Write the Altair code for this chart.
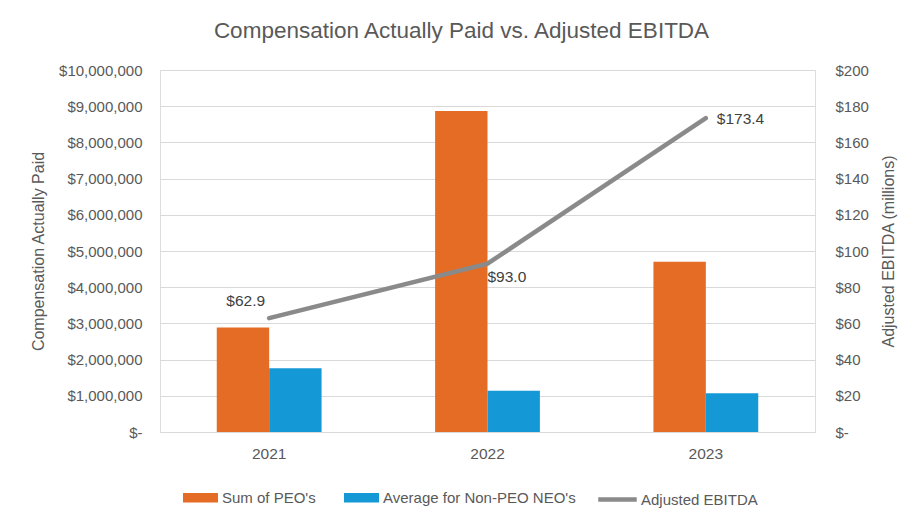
import altair as alt
import pandas as pd

years = ["2021", "2022", "2023"]
series_names = ["Sum of PEO's", "Average for Non-PEO NEO's"]
peo_values = [2890000, 8870000, 4700000]
neo_values = [1760000, 1140000, 1070000]
ebitda_values = [62.9, 93.0, 173.4]
ebitda_labels = ["$62.9", "$93.0", "$173.4"]
line_name = "Adjusted EBITDA"
bar_colors = ["#E46C25", "#1599D6"]
line_color = "#8A8A8A"
left_ticks = [i * 1000000 for i in range(11)]
right_ticks = [i * 20 for i in range(11)]

bars_df = pd.DataFrame({
    "year": years * 2,
    "series": [series_names[0]] * 3 + [series_names[1]] * 3,
    "value": peo_values + neo_values,
})
line_df = pd.DataFrame({
    "year": years,
    "ebitda": ebitda_values,
    "label": ebitda_labels,
    "series": [line_name] * 3,
})

FONT = "Liberation Sans"
GRAY = "#595959"

xscale = alt.Scale(paddingInner=0.52, paddingOuter=0.26)
x_enc = alt.X("year:N", scale=xscale, sort=years,
              axis=alt.Axis(title=None, labelAngle=0, labelFontSize=15.5, labelColor=GRAY,
                            labelPadding=14, domain=False, ticks=False, labelFont=FONT))

bars = alt.Chart(bars_df).mark_bar().encode(
    x=x_enc,
    xOffset=alt.XOffset("series:N", sort=series_names),
    y=alt.Y("value:Q", scale=alt.Scale(domain=[0, 10000000]),
            axis=alt.Axis(title="Compensation Actually Paid", values=left_ticks,
                          labelExpr="datum.value == 0 ? '$-' : '$' + format(datum.value, ',.0f')",
                          labelFontSize=15, labelColor=GRAY, labelPadding=18,
                          titleFontSize=16, titleFontWeight="normal", titleColor=GRAY, titlePadding=12,
                          domain=False, ticks=False, grid=True, gridColor="#D9D9D9", gridWidth=1.2,
                          labelFont=FONT, titleFont=FONT)),
    color=alt.Color("series:N", sort=series_names,
                    scale=alt.Scale(domain=series_names, range=bar_colors),
                    legend=alt.Legend(title=None, orient="none", legendX=23, legendY=410,
                                      direction="horizontal",
                                      symbolType="M-1,-0.27L1,-0.27L1,0.27L-1,0.27Z",
                                      symbolSize=1225, symbolStrokeWidth=0,
                                      labelFontSize=15, labelColor=GRAY, labelFont=FONT,
                                      labelLimit=400, labelOffset=4, columnPadding=28)),
)

right_axis = alt.Axis(title="Adjusted EBITDA (millions)", orient="right", values=right_ticks,
                      labelExpr="datum.value == 0 ? '$-' : '$' + datum.value",
                      labelFontSize=15, labelColor=GRAY, labelPadding=20,
                      titleFontSize=16, titleFontWeight="normal", titleColor=GRAY, titlePadding=12,
                      titleAngle=270, titleBaseline="top",
                      domain=False, ticks=False, grid=False, labelFont=FONT, titleFont=FONT)
right_scale = alt.Scale(domain=[0, 200])

line = alt.Chart(line_df).mark_line(strokeWidth=4.5, strokeCap="round").encode(
    x=alt.X("year:N", sort=years),
    y=alt.Y("ebitda:Q", scale=right_scale, axis=right_axis),
    stroke=alt.Stroke("series:N", scale=alt.Scale(domain=[line_name], range=[line_color]),
                      legend=alt.Legend(title=None, orient="none", legendX=436, legendY=408,
                                        symbolType="stroke", symbolSize=1480, symbolStrokeWidth=4.5,
                                        labelFontSize=15, labelColor=GRAY, labelFont=FONT,
                                        labelLimit=400, labelOffset=2)),
)

def label_layer(year, align, dx, dy):
    return alt.Chart(line_df).transform_filter(alt.datum.year == year).mark_text(
        align=align, baseline="middle", dx=dx, dy=dy, fontSize=15.5, color="#404040", font=FONT
    ).encode(
        x=alt.X("year:N", sort=years),
        y=alt.Y("ebitda:Q", scale=right_scale, axis=right_axis),
        text="label:N",
    )

labels = [
    label_layer("2021", "right", -4, -17),
    label_layer("2022", "left", 0, 13),
    label_layer("2023", "left", 11, 1),
]

right_layer = alt.layer(line, *labels)

chart = alt.layer(bars, right_layer).resolve_scale(
    y="independent", color="independent"
).properties(
    width=655, height=362,
    autosize="none",
    padding={"left": 152, "top": 62, "right": 101, "bottom": 80},
    title=alt.TitleParams("Compensation Actually Paid vs. Adjusted EBITDA", fontSize=22.5,
                          font=FONT, fontWeight="normal", color=GRAY, anchor="middle",
                          dx=-26, offset=21),
).configure_view(stroke=None).configure(background="white")

chart.save("out.html", embed_options={"renderer": "svg", "actions": False})
